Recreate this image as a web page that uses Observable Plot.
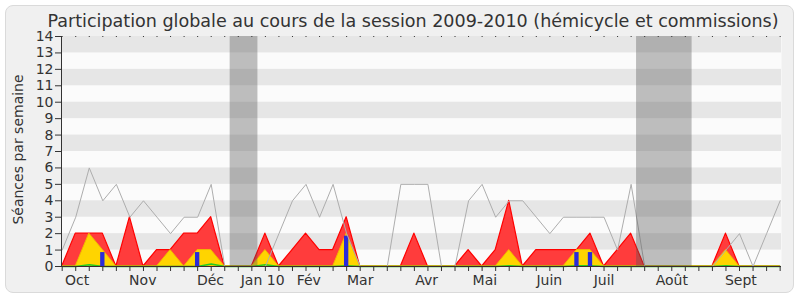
<!DOCTYPE html>
<html><head><meta charset="utf-8">
<script src="https://cdn.jsdelivr.net/npm/d3@7"></script>
<script src="https://cdn.jsdelivr.net/npm/@observablehq/plot@0.6"></script>
<style>
body{margin:0;background:#fff;}
#panel{position:absolute;left:5px;top:5px;width:787px;height:286px;background:#f0f0f0;border:1px solid #dadada;border-radius:8px;}
#chart{position:absolute;left:0;top:0;}
</style></head><body>
<div id="panel"></div><div id="chart"></div>
<script>
const title = "Participation globale au cours de la session 2009-2010 (hémicycle et commissions)";
const yLabel = "Séances par semaine";
// one value per week, week index 0..53
const red    = [0,2,2,2,0,3,0,1,1,2,2,3,0,0,0,2,0,1,2,1,1,3,0,0,0,0,2,0,0,0,1,0,1,4,0,1,1,1,1,2,0,1,2,0,0,0,0,0,0,2,0,0,0,0];
const yellow = [0,0,2,1,0,0,0,0,1,0,1,1,0,0,0,1,0,0,0,0,0,2,0,0,0,0,0,0,0,0,0,0,0,1,0,0,0,0,1,1,0,0,0,0,0,0,0,0,0,1,0,0,0,0];
const green  = [0,0,0.1,0,0,0,0,0,0,0,0,0.15,0,0,0,0.1,0,0,0,0,0,0.05,0,0,0,0,0,0,0,0,0,0,0,0.05,0,0,0,0,0.05,0.05,0,0,0,0,0,0,0,0,0,0.05,0,0,0,0];
const blue   = [0,0,0,1,0,0,0,0,0,0,1,0,0,0,0,0,0,0,0,0,0,2,0,0,0,0,0,0,0,0,0,0,0,0,0,0,0,0,1,1,0,0,0,0,0,0,0,0,0,0,0,0,0,0];
const gray   = [1,3,6,4,5,3,4,3,2,3,3,5,0,0,0,0,2,4,5,3,5,2,0,0,0,5,5,5,0,0,4,5,3,4,4,3,2,3,3,3,3,1,5,0,0,0,0,0,0,1,2,0,2,4];
const months   = ["Oct","Nov","Déc","Jan 10","Fév","Mar","Avr","Mai","Juin","Juil","Août","Sept"];
const monthPos = [1.1,5.95,10.95,14.8,18.2,22.0,26.9,31.2,35.96,40.0,45.0,50.1];
const vacStart = [12.4, 42.4];
const vacEnd   = [14.45, 46.5];
const yTicks = [0,1,2,3,4,5,6,7,8,9,10,11,12,13,14];
const stripes = [1,3,5,7,9,11,13];
const xDomain = [-0.05, 53.1];

const rows = red.map((v,i)=>({i, red:v, yellow:yellow[i], green:green[i], blue:blue[i], gray:gray[i]}));
const weekIdx = rows.map(d=>d.i);

const chart = Plot.plot({
  width:800, height:300,
  marginLeft:61, marginRight:19, marginTop:36, marginBottom:34,
  style:{background:"transparent", fontFamily:"DejaVu Sans", fontSize:"14px", color:"#333"},
  x:{domain:xDomain},
  y:{domain:[0,14]},
  marks:[
    Plot.frame({fill:"#fbfbfb", stroke:null}),
    Plot.rect(stripes,{y1:d=>d, y2:d=>d+1, fill:"#e6e6e6"}),
    Plot.areaY(rows,{x:"i", y:"red", fill:"#ff3c3c", stroke:"#ff0000", strokeWidth:1.2}),
    Plot.areaY(rows,{x:"i", y:"yellow", fill:"#ffd400", stroke:"#f2b800", strokeWidth:1}),
    Plot.lineY(rows,{x:"i", y:"green", stroke:"#22cc22", strokeWidth:1.5}),
    Plot.rect(rows.filter(d=>d.blue>0),{x1:d=>d.i-0.16, x2:d=>d.i+0.16, y1:0, y2:"blue", fill:"#2b2bd9", insetTop:2.5}),
    Plot.lineY(rows,{x:"i", y:"gray", stroke:"#adadad", strokeWidth:1}),
    Plot.rect(vacStart,{x1:d=>d, x2:(d,k)=>vacEnd[k], fill:"#555", fillOpacity:0.37}),
    Plot.ruleY([0],{stroke:"#3a2a2a"}),
    Plot.ruleX([xDomain[0]],{stroke:"#333"}),
    Plot.axisY({ticks:yTicks, tickSize:6, tickPadding:2, label:null, fontSize:14}),
    Plot.axisX({ticks:weekIdx, tickSize:5, tickFormat:()=>"", label:null}),
    Plot.axisX({anchor:"top", ticks:weekIdx, tickSize:1, tickFormat:()=>"", label:null}),
    Plot.text(months,{x:(d,k)=>monthPos[k], frameAnchor:"bottom", dy:18, lineAnchor:"bottom", text:d=>d, fontSize:14, fill:"#333"}),
    Plot.text([yLabel],{frameAnchor:"left", textAnchor:"middle", dx:-43, dy:-2, rotate:-90, text:d=>d, fontSize:14, fill:"#333"}),
    Plot.text([title],{frameAnchor:"top", textAnchor:"middle", dx:-8.5, dy:-9.5, lineAnchor:"bottom", text:d=>d, fontSize:18, fill:"#333"})
  ]
});
document.getElementById("chart").appendChild(chart);
d3.select(chart).selectAll("text").each(function(){
  if (this.textContent === title) {
    this.style.fontStretch = "condensed";
    this.setAttribute("textLength", 731);
    this.setAttribute("lengthAdjust", "spacingAndGlyphs");
  }
});
</script>
</body></html>
